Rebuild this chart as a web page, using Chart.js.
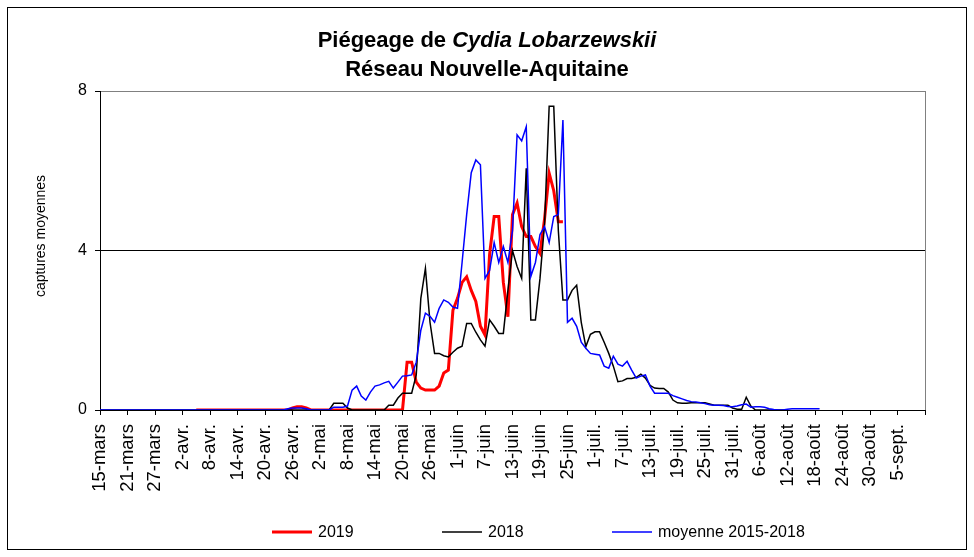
<!DOCTYPE html>
<html>
<head>
<meta charset="utf-8">
<script src="https://cdn.jsdelivr.net/npm/chart.js@4.4.1/dist/chart.umd.min.js"></script>
<style>
  html, body { margin: 0; padding: 0; background: #fff; }
  canvas { display: block; }
</style>
</head>
<body>
<canvas id="chart" width="974" height="557"></canvas>
<script>
// x axis counts days from 15-mars (day 0), one tick every 6 days
const tickLabels = ['15-mars', '21-mars', '27-mars', '2-avr.', '8-avr.', '14-avr.', '20-avr.', '26-avr.',
  '2-mai', '8-mai', '14-mai', '20-mai', '26-mai', '1-juin', '7-juin', '13-juin', '19-juin', '25-juin',
  '1-juil.', '7-juil.', '13-juil.', '19-juil.', '25-juil.', '31-juil.', '6-août', '12-août', '18-août',
  '24-août', '30-août', '5-sept.', ''];
const yTicks = [0, 4, 8];

const seriesNames = ['2019', '2018', 'moyenne 2015-2018'];

// 2019: first day = 5-avr. (day 21)
const start2019 = 21;
const captures2019 = [
  0, 0, 0, 0, 0, 0, 0, 0, 0, 0, 0, 0, 0, 0, 0, 0, 0, 0, 0, 0, 0,
  0.05, 0.08, 0.08, 0.05,
  0, 0, 0, 0, 0, 0, 0, 0, 0, 0, 0, 0, 0, 0, 0, 0, 0, 0, 0, 0, 0,
  1.2, 1.2, 0.7, 0.55, 0.5, 0.5, 0.5, 0.6, 0.93, 1.0,
  2.5, 2.8, 3.2, 3.34, 3.0, 2.72, 2.1, 1.88, 3.9, 4.85,
  4.85, 3.2, 2.34, 4.9, 5.19, 4.6, 4.35, 4.35, 4.1, 3.93,
  4.8, 5.94, 5.5, 4.72, 4.72
];

// 2018: first day = 15-mars
const start2018 = 0;
const captures2018 = [
  0, 0, 0, 0, 0, 0, 0, 0, 0, 0, 0, 0, 0, 0, 0, 0, 0, 0, 0, 0,
  0, 0, 0, 0, 0, 0, 0, 0, 0, 0, 0, 0, 0, 0, 0, 0, 0, 0, 0, 0,
  0, 0, 0, 0, 0, 0, 0, 0, 0, 0, 0,
  0.17, 0.17, 0.17, 0.05, 0, 0, 0, 0, 0, 0, 0, 0,
  0.12, 0.12, 0.3, 0.42, 0.42, 0.42, 0.88, 2.8, 3.55, 2.2,
  1.42, 1.42, 1.36, 1.33, 1.45, 1.55, 1.6, 2.17, 2.17, 1.95,
  1.76, 1.6, 2.26, 2.1, 1.92, 1.92, 3.0, 4.0, 3.6, 3.3,
  6.06, 2.26, 2.26, 3.3, 4.68, 7.62, 7.62, 4.5, 2.76, 2.76,
  3.0, 3.13, 2.2, 1.59, 1.9, 1.96, 1.96, 1.7, 1.42, 1.1,
  0.71, 0.73, 0.79, 0.79, 0.82, 0.9, 0.8, 0.62, 0.55, 0.54,
  0.54, 0.45, 0.25, 0.18, 0.17, 0.17, 0.18, 0.18, 0.18, 0.18,
  0.15, 0.12, 0.12, 0.12, 0.12, 0.05, 0.02, 0.02, 0.32, 0.1,
  0, 0, 0, 0, 0, 0, 0, 0
];

// moyenne 2015-2018: first day = 15-mars
const startMoyenne = 0;
const capturesMoyenne = [
  0, 0, 0, 0, 0, 0, 0, 0, 0, 0, 0, 0, 0, 0, 0, 0, 0, 0, 0, 0,
  0, 0, 0, 0, 0, 0, 0, 0, 0, 0, 0, 0, 0, 0, 0, 0, 0, 0, 0, 0,
  0, 0.03, 0.05, 0.05, 0.05, 0.03, 0, 0, 0, 0, 0,
  0.07, 0.07, 0.07, 0.1, 0.5, 0.6, 0.35, 0.25, 0.45,
  0.6, 0.63, 0.68, 0.72, 0.55, 0.7, 0.85, 0.86, 0.88, 1.2,
  2.0, 2.43, 2.35, 2.2, 2.55, 2.76, 2.7, 2.58, 2.55, 3.7,
  4.9, 5.95, 6.27, 6.15, 3.3, 3.5, 4.2, 3.7, 4.1, 3.7,
  4.5, 6.9, 6.75, 7.1, 3.35, 3.7, 4.4, 4.6, 4.2, 4.85,
  4.9, 7.27, 2.2, 2.3, 2.1, 1.7, 1.55, 1.42, 1.4, 1.38,
  1.1, 1.05, 1.35, 1.15, 1.1, 1.22, 1.0, 0.8, 0.85, 0.88,
  0.6, 0.42, 0.42, 0.42, 0.42, 0.36, 0.32, 0.28, 0.24, 0.21,
  0.2, 0.18, 0.16, 0.13, 0.12, 0.12, 0.11, 0.09, 0.08, 0.1,
  0.13, 0.15, 0.07, 0.08, 0.08, 0.07, 0.03, 0.01, 0, 0,
  0.02, 0.03, 0.03, 0.03, 0.03, 0.03, 0.03, 0.03
];

function toPoints(start, values) {
  return values.map((v, i) => ({ x: start + i, y: v }));
}

Chart.defaults.font.family = '"Liberation Sans", Arial, sans-serif';
Chart.defaults.color = '#000';

// title, y title, legend and frames drawn by hand (mixed italics, wide legend spacing)
const decor = {
  id: 'decor',
  beforeDraw(chart) {
    const ctx = chart.ctx;
    ctx.save();
    ctx.fillStyle = '#fff';
    ctx.fillRect(0, 0, chart.width, chart.height);
    ctx.restore();
  },
  afterDraw(chart) {
    const ctx = chart.ctx;
    const a = chart.chartArea;
    ctx.save();

    // plot area right edge
    ctx.strokeStyle = '#808080';
    ctx.lineWidth = 1;
    ctx.beginPath();
    ctx.moveTo(Math.round(a.right) + 0.5, a.top);
    ctx.lineTo(Math.round(a.right) + 0.5, a.bottom);
    ctx.stroke();

    // outer frame
    ctx.strokeStyle = '#000';
    ctx.strokeRect(7.5, 7.5, 959, 542);

    // title
    ctx.fillStyle = '#000';
    ctx.textBaseline = 'alphabetic';
    const cx = 487;
    const part1 = 'Piégeage de ';
    const part2 = 'Cydia Lobarzewskii';
    ctx.font = 'bold 22px "Liberation Sans", Arial, sans-serif';
    const w1 = ctx.measureText(part1).width;
    ctx.font = 'italic bold 22px "Liberation Sans", Arial, sans-serif';
    const w2 = ctx.measureText(part2).width;
    let x0 = cx - (w1 + w2) / 2;
    ctx.textAlign = 'left';
    ctx.font = 'bold 22px "Liberation Sans", Arial, sans-serif';
    ctx.fillText(part1, x0, 47);
    ctx.font = 'italic bold 22px "Liberation Sans", Arial, sans-serif';
    ctx.fillText(part2, x0 + w1, 47);
    ctx.font = 'bold 22px "Liberation Sans", Arial, sans-serif';
    ctx.textAlign = 'center';
    ctx.fillText('Réseau Nouvelle-Aquitaine', cx, 76);

    // y axis title
    ctx.save();
    ctx.translate(41, 236);
    ctx.rotate(-Math.PI / 2);
    ctx.font = '14px "Liberation Sans", Arial, sans-serif';
    ctx.textAlign = 'center';
    ctx.textBaseline = 'middle';
    ctx.fillText('captures moyennes', 0, 0);
    ctx.restore();

    // legend
    const legendX = [272, 442, 612];
    const ly = 532;
    ctx.font = '16px "Liberation Sans", Arial, sans-serif';
    ctx.textAlign = 'left';
    ctx.textBaseline = 'middle';
    chart.data.datasets.forEach((ds, i) => {
      ctx.strokeStyle = ds.borderColor;
      ctx.lineWidth = ds.borderWidth;
      ctx.beginPath();
      ctx.moveTo(legendX[i], ly);
      ctx.lineTo(legendX[i] + 40, ly);
      ctx.stroke();
      ctx.fillText(ds.label, legendX[i] + 46, ly + 1);
    });
    ctx.restore();
  }
};

new Chart(document.getElementById('chart'), {
  type: 'line',
  data: {
    datasets: [
      { label: seriesNames[0], data: toPoints(start2019, captures2019), borderColor: '#ff0000', borderWidth: 3, order: 3 },
      { label: seriesNames[1], data: toPoints(start2018, captures2018), borderColor: '#000000', borderWidth: 1.5, order: 2 },
      { label: seriesNames[2], data: toPoints(startMoyenne, capturesMoyenne), borderColor: '#0000ff', borderWidth: 1.5, order: 1 }
    ]
  },
  options: {
    responsive: false,
    animation: false,
    devicePixelRatio: 1,
    elements: { point: { radius: 0 }, line: { tension: 0 } },
    layout: { padding: { left: 30, top: 91, right: 49, bottom: 0 } },
    plugins: { legend: { display: false }, title: { display: false }, tooltip: { enabled: false } },
    scales: {
      x: {
        type: 'linear',
        min: 0,
        max: 180,
        afterFit(s) { s.height = 147; },
        ticks: {
          stepSize: 6,
          autoSkip: false,
          minRotation: 90,
          maxRotation: 90,
          padding: 9,
          font: { size: 18.5 },
          color: '#000',
          callback: v => tickLabels[v / 6] ?? ''
        },
        grid: { drawOnChartArea: false, tickLength: 5, tickColor: '#000', color: '#000' },
        border: { color: '#000', width: 1 }
      },
      y: {
        min: 0,
        max: 8,
        afterFit(s) { s.width = 70; },
        afterBuildTicks(s) { s.ticks = yTicks.map(v => ({ value: v })); },
        ticks: { font: { size: 16 }, color: '#000', padding: 8 },
        grid: {
          color: c => (c.tick && c.tick.value === 8 ? '#808080' : '#000'),
          tickLength: 5,
          tickColor: '#000'
        },
        border: { color: '#000', width: 1 }
      }
    }
  },
  plugins: [decor]
});
</script>
</body>
</html>
